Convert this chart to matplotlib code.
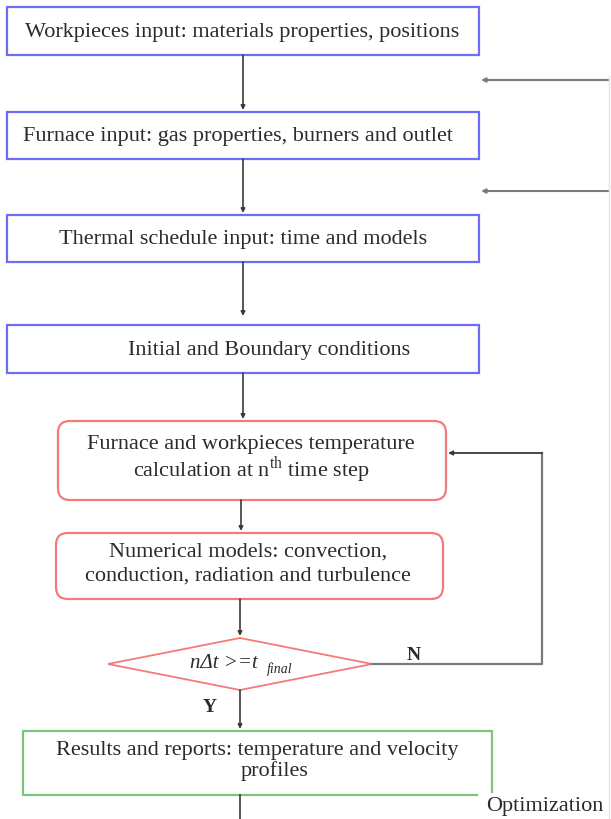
import matplotlib
matplotlib.use('Agg')
import matplotlib.pyplot as plt
from matplotlib.patches import FancyBboxPatch, Polygon, Rectangle

plt.rcParams['font.family'] = ['Liberation Serif', 'DejaVu Serif']
plt.rcParams['mathtext.fontset'] = 'custom'
plt.rcParams['mathtext.rm'] = 'Liberation Serif'

# flowchart texts
input_labels = [
    'Workpieces input: materials properties, positions',
    'Furnace input: gas properties, burners and outlet',
    'Thermal schedule input: time and models',
    'Initial and Boundary conditions',
]
calc_labels = [
    ['Furnace and workpieces temperature', 'calculation at n$^{\\mathrm{th}}$ time step'],
    ['Numerical models: convection,', 'conduction, radiation and turbulence'],
]
decision_label = 'n\u0394t >=t'
decision_sub = 'final'
result_labels = ['Results and reports: temperature and velocity', 'profiles']
branch_labels = ['N', 'Y']
loop_label = 'Optimization'

BLUE = '#6f6cf5'
RED = '#f57a7a'
GREEN = '#7cc47c'
TXT = '#2b2b2b'
LINE = '#3a3a3a'
GREY = '#7a7a7a'
FS = 16

fig = plt.figure(figsize=(6.11, 8.19), dpi=100)
ax = fig.add_axes([0, 0, 1, 1])
ax.set_xlim(0, 611)
ax.set_ylim(819, 0)
ax.axis('off')


def arrow(x, y0, y1, x1=None, color=LINE, lw=1.2):
    if x1 is None:
        x1 = x
    ax.annotate('', xy=(x1, y1), xytext=(x, y0),
                arrowprops=dict(arrowstyle='-|>', color=color, lw=lw,
                                mutation_scale=6, shrinkA=0, shrinkB=0))


# blue input boxes: (top, bottom, text x)
blue_boxes = [(7, 55, 242), (112, 159, 238), (215, 262, 243), (325, 373, 269)]
for (top, bot, tx), lab in zip(blue_boxes, input_labels):
    ax.add_patch(Rectangle((7, top), 472, bot - top, fill=False,
                           edgecolor=BLUE, lw=1.6))
    ax.text(tx, (top + bot) / 2 + 1, lab, ha='center', va='center',
            fontsize=FS, color=TXT)

# arrows between input boxes
arrow(243, 55, 110)
arrow(243, 159, 213)
arrow(243, 262, 316)
arrow(243, 373, 419)

# faint right feedback line with arrows into the input section
ax.plot([609, 609], [76, 819], color='#e4e4e4', lw=1.0)
arrow(608, 80, 80, x1=481, color=GREY, lw=1.5)
arrow(608, 191, 191, x1=481, color=GREY, lw=1.5)

# red rounded calculation boxes: (left, right, top, bottom, text x, line offsets)
red_boxes = [(58, 446, 421, 500, 251, (24, 49)), (56, 443, 533, 599, 248, (19, 43))]
for (l, r, top, bot, tx, offs), lines in zip(red_boxes, calc_labels):
    ax.add_patch(FancyBboxPatch((l, top), r - l, bot - top,
                                boxstyle='round,pad=0,rounding_size=12',
                                fill=False, edgecolor=RED, lw=1.6))
    ax.text(tx, top + offs[0], lines[0], ha='center', va='center',
            fontsize=FS, color=TXT)
    ax.text(tx, top + offs[1], lines[1], ha='center', va='center',
            fontsize=FS, color=TXT)

arrow(241, 500, 531)
arrow(240, 599, 636)

# decision diamond
ax.add_patch(Polygon([(240, 638), (372, 664), (240, 690), (108, 664)],
                     closed=True, fill=False, edgecolor=RED, lw=1.3))
ax.text(224, 664, decision_label, ha='center', va='center', fontsize=15,
        style='italic', color=TXT)
ax.text(280, 669, decision_sub, ha='center', va='center', fontsize=10,
        style='italic', color=TXT)

# N loop back to first calculation box
ax.plot([372, 542, 542], [664, 664, 453], color=GREY, lw=1.6)
arrow(542, 453, 453, x1=448, color=LINE, lw=1.3)
ax.text(414, 655, branch_labels[0], ha='center', va='center',
        fontsize=14, color=TXT, fontweight='bold')
ax.text(210, 707, branch_labels[1], ha='center', va='center',
        fontsize=14, color=TXT, fontweight='bold')

arrow(240, 690, 729)

# green results box (lower right corner left open)
ax.plot([477, 23, 23, 492, 492], [795, 795, 731, 731, 792],
        color=GREEN, lw=1.6)
ax.text(257, 751, result_labels[0], ha='center', va='center',
        fontsize=FS, color=TXT)
ax.text(275, 771, result_labels[1], ha='center', va='center',
        fontsize=FS, color=TXT)

ax.plot([240, 240], [795, 819], color=LINE, lw=1.2)
ax.text(545, 806, loop_label, ha='center', va='center', fontsize=16,
        color=TXT)

fig.savefig('out.png', dpi=100)
